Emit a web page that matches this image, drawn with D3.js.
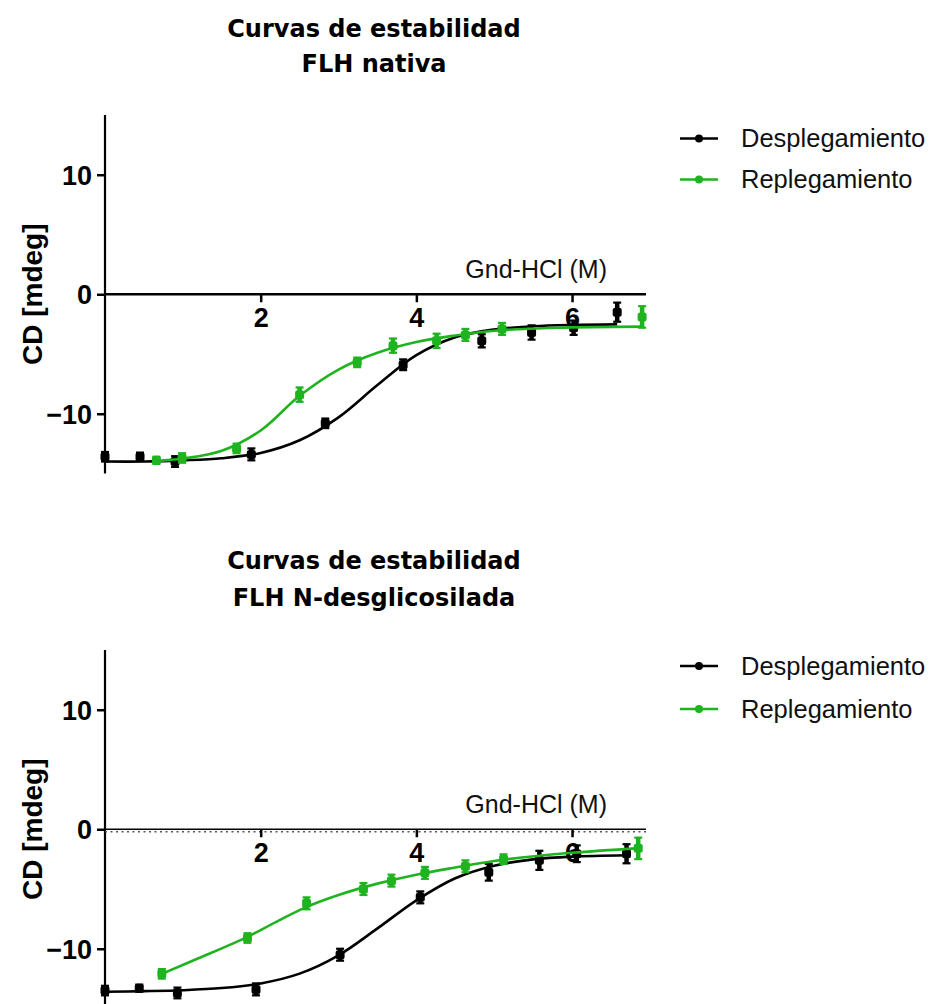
<!DOCTYPE html>
<html>
<head>
<meta charset="utf-8">
<script src="https://cdn.jsdelivr.net/npm/d3@7"></script>
<style>
  html, body { margin: 0; padding: 0; background: #fff; }
  svg { display: block; }
</style>
</head>
<body>
<svg id="chart" width="933" height="1004"></svg>
<script>
// ---------------- DATA ----------------
const seriesNames = ["Desplegamiento", "Replegamiento"];
const seriesColors = ["#000000", "#1fb31f"];
const titlesA = ["Curvas de estabilidad", "FLH nativa"];
const titlesB = ["Curvas de estabilidad", "FLH N-desglicosilada"];
const xLabel = "Gnd-HCl (M)";
const yLabel = "CD [mdeg]";
const xTicks = [2, 4, 6];
const yTicks = [-10, 0, 10];

// Panel A (FLH nativa) - measured points
const unfoldX_A   = [0, 0.45, 0.9, 1.88, 2.83, 3.83, 4.84, 5.48, 6.02, 6.58];
const unfoldY_A   = [-13.6, -13.6, -14.0, -13.4, -10.8, -5.9, -3.9, -3.2, -2.8, -1.5];
const unfoldErr_A = [0.4, 0.35, 0.45, 0.5, 0.4, 0.45, 0.55, 0.6, 0.6, 0.8];
const refoldX_A   = [0.66, 0.99, 1.69, 2.5, 3.24, 3.7, 4.26, 4.63, 5.1, 6.9];
const refoldY_A   = [-13.9, -13.7, -12.9, -8.4, -5.7, -4.3, -3.9, -3.4, -2.9, -1.9];
const refoldErr_A = [0.3, 0.4, 0.4, 0.6, 0.4, 0.6, 0.6, 0.5, 0.5, 0.9];
// Panel A fitted curves
const fitUnfoldX_A = [0, 0.5, 1, 1.5, 2, 2.5, 3, 3.5, 4, 4.5, 5, 5.5, 6, 6.58];
const fitUnfoldY_A = [-14.0, -14.0, -13.9, -13.72, -13.28, -12.22, -10.3, -7.6, -5.1, -3.6, -2.95, -2.68, -2.57, -2.52];
const fitRefoldX_A = [0.66, 1.0, 1.5, 2.0, 2.5, 3.0, 3.5, 4.0, 4.5, 5.0, 5.8, 6.9];
const fitRefoldY_A = [-13.95, -13.75, -13.1, -11.4, -8.5, -6.3, -4.9, -4.0, -3.45, -3.05, -2.8, -2.71];

// Panel B (FLH N-desglicosilada) - measured points
const unfoldX_B   = [0, 0.44, 0.93, 1.94, 3.02, 4.05, 4.93, 5.58, 6.06, 6.7];
const unfoldY_B   = [-13.5, -13.3, -13.7, -13.4, -10.5, -5.7, -3.6, -2.6, -2.05, -2.05];
const unfoldErr_B = [0.4, 0.3, 0.45, 0.5, 0.5, 0.5, 0.7, 0.8, 0.7, 0.8];
const refoldX_B   = [0.73, 1.83, 2.59, 3.32, 3.68, 4.11, 4.63, 5.12, 6.85];
const refoldY_B   = [-12.1, -9.1, -6.2, -5.0, -4.3, -3.65, -3.1, -2.5, -1.6];
const refoldErr_B = [0.4, 0.4, 0.5, 0.5, 0.5, 0.5, 0.5, 0.4, 0.9];
// Panel B fitted curves
const fitUnfoldX_B = [0, 0.5, 1, 1.5, 2, 2.5, 3, 3.5, 4, 4.5, 5, 5.5, 6, 6.7];
const fitUnfoldY_B = [-13.6, -13.55, -13.47, -13.29, -12.9, -12.08, -10.55, -8.3, -5.95, -4.1, -3.05, -2.52, -2.29, -2.17];
const fitRefoldX_B = [0.73, 1.2, 1.83, 2.2, 2.59, 3.0, 3.5, 4.0, 4.5, 5.0, 6.0, 6.85];
const fitRefoldY_B = [-12.1, -10.8, -9.0, -7.75, -6.5, -5.5, -4.55, -3.8, -3.2, -2.65, -1.97, -1.6];

// ---------------- DRAW ----------------
const svg = d3.select("#chart");
const xDomain = [0, 6.95];
const yDomain = [-15, 15];

function zip(xs, ys, es) { return xs.map((x, i) => ({x, y: ys[i], e: es ? es[i] : 0})); }

function panel(cfg) {
  const g = svg.append("g");
  const x = d3.scaleLinear().domain(xDomain).range([105, 646]);
  const y = d3.scaleLinear().domain(yDomain).range([cfg.y0 + 358.5, cfg.y0]);

  // titles
  g.selectAll("text.title").data(cfg.titles).join("text")
    .attr("class", "title")
    .attr("x", 374).attr("y", (d, i) => cfg.titleY[i])
    .attr("text-anchor", "middle")
    .style("font-family", "'DejaVu Sans', Verdana, sans-serif")
    .style("font-weight", "bold").style("font-size", "24px")
    .text(d => d);

  // y axis
  const yAx = g.append("g").attr("transform", `translate(${x(0)},0)`)
    .call(d3.axisLeft(y).tickValues(yTicks).tickSize(8).tickPadding(5).tickFormat(d3.format("d")));
  yAx.select(".domain").attr("stroke-width", 2.2).attr("d", `M0,${y(yDomain[1])}V${y(yDomain[0])}`);
  yAx.selectAll(".tick line").attr("stroke-width", 2.5);
  yAx.selectAll(".tick text")
    .style("font-family", "'Liberation Sans', Arial, sans-serif")
    .style("font-weight", "bold").style("font-size", "27px")
    .attr("dy", "0.36em").attr("fill", "#000");

  // x axis at y = 0
  if (cfg.dotted) {
    g.append("line").attr("x1", x(0)).attr("x2", x(xDomain[1]))
      .attr("y1", y(0) + 2.5).attr("y2", y(0) + 2.5)
      .attr("stroke", "#555").attr("stroke-width", 1.5).attr("stroke-dasharray", "2,3.5");
  }
  const xAx = g.append("g").attr("transform", `translate(0,${y(0)})`)
    .call(d3.axisBottom(x).tickValues(xTicks).tickSize(8).tickPadding(6).tickFormat(d3.format("d")));
  xAx.select(".domain").attr("stroke-width", cfg.dotted ? 1.6 : 2.6).attr("d", `M${x(0)},0H${x(xDomain[1])}`);
  xAx.selectAll(".tick line").attr("stroke-width", 2.5);
  xAx.selectAll(".tick text")
    .style("font-family", "'Liberation Sans', Arial, sans-serif")
    .style("font-weight", "bold").style("font-size", "27px")
    .attr("fill", "#000");
  g.append("text").attr("x", 607).attr("y", y(0) - 16)
    .attr("text-anchor", "end")
    .style("font-family", "'Liberation Sans', Arial, sans-serif")
    .style("font-size", "25px").attr("fill", "#111")
    .text(xLabel);

  // y label
  g.append("text")
    .attr("transform", `translate(42,${(y(yDomain[1]) + y(yDomain[0])) / 2}) rotate(-90)`)
    .attr("text-anchor", "middle")
    .style("font-family", "'Liberation Sans', Arial, sans-serif")
    .style("font-weight", "bold").style("font-size", "28px")
    .text(yLabel);

  const line = d3.line().x(d => x(d.x)).y(d => y(d.y)).curve(d3.curveCatmullRom.alpha(0.5));

  cfg.series.forEach((s, si) => {
    const col = seriesColors[si];
    g.append("path").datum(zip(s.fx, s.fy)).attr("d", line)
      .attr("fill", "none").attr("stroke", col).attr("stroke-width", 2.6);
    const pts = zip(s.px, s.py, s.pe);
    const pg = g.append("g");
    pg.selectAll("line.err").data(pts).join("line").attr("class", "err")
      .attr("x1", d => x(d.x)).attr("x2", d => x(d.x))
      .attr("y1", d => y(d.y + d.e)).attr("y2", d => y(d.y - d.e))
      .attr("stroke", col).attr("stroke-width", 4.5);
    pg.selectAll("line.capT").data(pts).join("line").attr("class", "capT")
      .attr("x1", d => x(d.x) - 4).attr("x2", d => x(d.x) + 4)
      .attr("y1", d => y(d.y + d.e)).attr("y2", d => y(d.y + d.e))
      .attr("stroke", col).attr("stroke-width", 2.2);
    pg.selectAll("line.capB").data(pts).join("line").attr("class", "capB")
      .attr("x1", d => x(d.x) - 4).attr("x2", d => x(d.x) + 4)
      .attr("y1", d => y(d.y - d.e)).attr("y2", d => y(d.y - d.e))
      .attr("stroke", col).attr("stroke-width", 2.2);
    pg.selectAll("rect").data(pts).join("rect")
      .attr("x", d => x(d.x) - 4.5).attr("y", d => y(d.y) - 4.5)
      .attr("width", 9).attr("height", 9).attr("rx", 2.5)
      .attr("fill", col);
  });

  // legend
  const lg = g.append("g");
  seriesNames.forEach((name, i) => {
    const ly = cfg.legendY[i];
    lg.append("line").attr("x1", 680).attr("x2", 718).attr("y1", ly).attr("y2", ly)
      .attr("stroke", seriesColors[i]).attr("stroke-width", 2.6);
    lg.append("circle").attr("cx", 699).attr("cy", ly).attr("r", 4).attr("fill", seriesColors[i]);
    lg.append("text").attr("x", 741).attr("y", ly + 8.5)
      .style("font-family", "'Liberation Sans', Arial, sans-serif")
      .style("font-size", "25.5px").attr("fill", "#111")
      .text(name);
  });
}

panel({
  y0: 115, titles: titlesA, titleY: [37, 71.5], legendY: [138.5, 179.5], dotted: false,
  series: [
    {px: unfoldX_A, py: unfoldY_A, pe: unfoldErr_A, fx: fitUnfoldX_A, fy: fitUnfoldY_A},
    {px: refoldX_A, py: refoldY_A, pe: refoldErr_A, fx: fitRefoldX_A, fy: fitRefoldY_A}
  ]
});
panel({
  y0: 650, titles: titlesB, titleY: [569, 606], legendY: [666, 709], dotted: true,
  series: [
    {px: unfoldX_B, py: unfoldY_B, pe: unfoldErr_B, fx: fitUnfoldX_B, fy: fitUnfoldY_B},
    {px: refoldX_B, py: refoldY_B, pe: refoldErr_B, fx: fitRefoldX_B, fy: fitRefoldY_B}
  ]
});
</script>
</body>
</html>
